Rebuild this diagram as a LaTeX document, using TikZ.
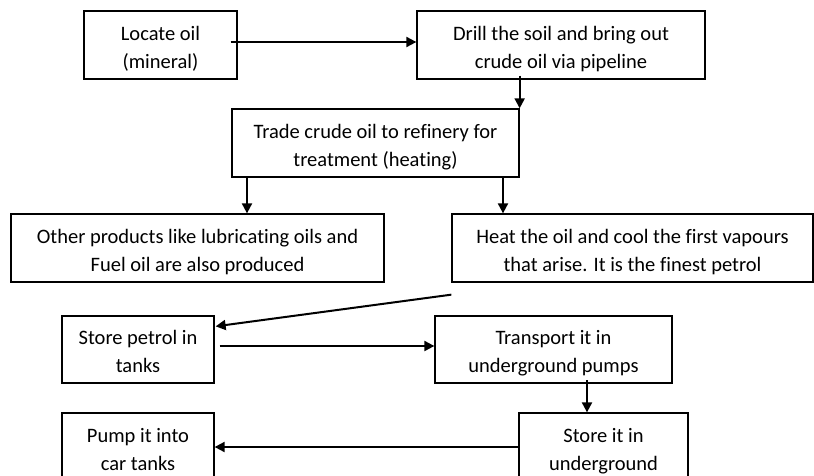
\documentclass[tikz,border=0pt]{standalone}
\usepackage{fontspec}
\setmainfont[Ligatures=NoCommon]{Carlito}
\usetikzlibrary{arrows.meta}
\tikzset{
  box/.style={draw=black, line width=1.3pt, inner sep=0pt, align=center, fill=white,
    font=\fontsize{20.5}{28}\selectfont, text height=48pt, text depth=2pt},
  arr/.style={line width=2pt, -{Triangle[length=10pt,width=10pt]}},
}
\begin{document}
\begin{tikzpicture}[x=1pt,y=-1pt]
\clip (0,0) rectangle (814,475);
\fill[white] (0,0) rectangle (814,475);
\node[box, minimum width=153pt, minimum height=68pt] (b1) at (160.5,45) {Locate oil\\(mineral)};
\node[box, minimum width=288pt, minimum height=68pt] (b2) at (561,45) {Drill the soil and bring out\\crude oil via pipeline};
\node[box, minimum width=287pt, minimum height=68pt] (b3) at (375.5,143) {Trade crude oil to refinery for\\treatment (heating)};
\node[box, minimum width=373pt, minimum height=68pt] (b4) at (197.5,248) {Other products like lubricating oils and\\Fuel oil are also produced};
\node[box, minimum width=361pt, minimum height=68pt] (b5) at (632.5,248) {Heat the oil and cool the first vapours\\that arise. It is the finest petrol};
\node[box, minimum width=152pt, minimum height=67pt] (b6) at (138,349.5) {Store petrol in\\tanks};
\node[box, minimum width=237pt, minimum height=67pt] (b7) at (553.5,349.5) {Transport it in\\underground pumps};
\node[box, minimum width=169pt, minimum height=68pt] (b8) at (603.5,447) {Store it in\\underground};
\node[box, minimum width=152pt, minimum height=68pt] (b9) at (138,447) {Pump it into\\car tanks};
\coordinate (s1) at ([xshift=-7pt,yshift=3pt]b1.east);
\draw[arr] (s1) -- (b2.west |- s1);
\coordinate (s2) at ([yshift=4pt]b3.north east |- b2.south);
\draw[arr] (s2) -- (b3.north east);
\coordinate (s3) at (247,176);
\draw[arr] (s3) -- (s3 |- b4.north);
\coordinate (s4) at (503,176);
\draw[arr] (s4) -- (s4 |- b5.north);
\coordinate (s5) at ([yshift=-12pt]b5.south west);
\coordinate (t5) at ([xshift=1pt,yshift=-11pt]b6.north east);
\draw[arr] (s5) -- (t5);
\coordinate (s6) at ([xshift=5pt,yshift=3.5pt]b6.east);
\draw[arr] (s6) -- (b7.west |- s6);
\coordinate (s7) at (587,380);
\draw[arr] (s7) -- (s7 |- b8.north);
\draw[arr] (b8.west) -- (b9.east);
\end{tikzpicture}
\end{document}
